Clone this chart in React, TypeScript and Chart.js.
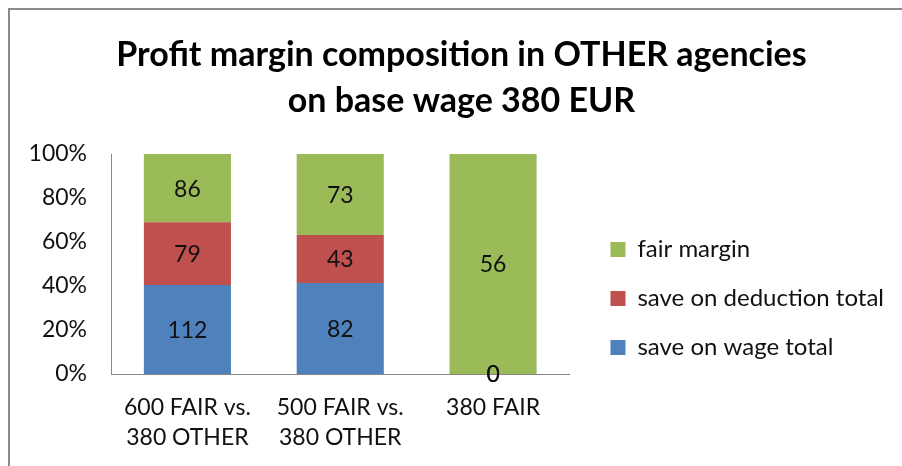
import React, { useEffect, useRef } from "react";
import { Chart, registerables } from "chart.js";

Chart.register(...registerables);

const titleLines = ["Profit margin composition in OTHER agencies", "on base wage 380 EUR"];
const categories: (string | string[])[] = [
  ["600 FAIR vs.", "380 OTHER"],
  ["500 FAIR vs.", "380 OTHER"],
  "380 FAIR",
];
const saveOnWage = [112, 82, 0];
const saveOnDeduction = [79, 43, 0];
const fairMargin = [86, 73, 56];
const seriesNames = ["save on wage total", "save on deduction total", "fair margin"];
const seriesColors = ["#4F81BD", "#C0504D", "#9BBB59"];
const yTicks = [0, 20, 40, 60, 80, 100];

const FONT = "Lato, 'Open Sans', sans-serif";

const totals = categories.map((_, i) => saveOnWage[i] + saveOnDeduction[i] + fairMargin[i]);
const pct = (arr: number[]) => arr.map((v, i) => (totals[i] ? (v / totals[i]) * 100 : 0));

const framePlugin = {
  id: "frame",
  beforeLayout(chart: any) {
    const lg = chart.legend;
    if (lg && !lg.__wide) {
      const orig = lg.update.bind(lg);
      lg.update = (mw: number, mh: number, m: any) => orig(Math.max(mw, 340), mh, m);
      lg.__wide = true;
    }
  },
  beforeDraw(chart: any) {
    const { ctx } = chart;
    ctx.save();
    ctx.fillStyle = "#ffffff";
    ctx.fillRect(0, 0, chart.width, chart.height);
    ctx.strokeStyle = "#8a8a8a";
    ctx.lineWidth = 2;
    ctx.strokeRect(9, 9, 1000, 1000);
    ctx.restore();
  },
};

const valueLabelPlugin = {
  id: "valueLabels",
  afterDatasetsDraw(chart: any) {
    const { ctx } = chart;
    ctx.save();
    ctx.font = `23px ${FONT}`;
    ctx.fillStyle = "#111111";
    ctx.textAlign = "center";
    ctx.textBaseline = "middle";
    chart.data.datasets.forEach((ds: any, di: number) => {
      const meta = chart.getDatasetMeta(di);
      meta.data.forEach((el: any, i: number) => {
        const raw = ds.rawValues[i];
        const y = (el.y + el.base) / 2;
        ctx.fillText(String(raw), el.x, y + 1);
      });
    });
    ctx.restore();
  },
};

export default function App() {
  const ref = useRef<HTMLCanvasElement | null>(null);
  useEffect(() => {
    if (!ref.current) return;
    const chart = new Chart(ref.current, {
      type: "bar",
      data: {
        labels: categories,
        datasets: [
          { label: seriesNames[0], data: pct(saveOnWage), rawValues: saveOnWage, backgroundColor: seriesColors[0] } as any,
          { label: seriesNames[1], data: pct(saveOnDeduction), rawValues: saveOnDeduction, backgroundColor: seriesColors[1] } as any,
          { label: seriesNames[2], data: pct(fairMargin), rawValues: fairMargin, backgroundColor: seriesColors[2] } as any,
        ],
      },
      options: {
        animation: false,
        responsive: false,
        devicePixelRatio: 1,
        layout: { padding: { left: 29, right: 8, top: 0, bottom: 0 } },
        datasets: { bar: { barPercentage: 0.57, categoryPercentage: 1.0 } },
        plugins: {
          title: {
            display: true,
            text: titleLines,
            color: "#000000",
            font: { family: FONT, size: 34, weight: "bold", lineHeight: "46px" },
            padding: { top: 32, bottom: 30 },
          },
          legend: {
            position: "right",
            reverse: true,
            title: {
              display: true,
              text: "",
              font: { family: FONT, size: 11, lineHeight: "13px" },
              padding: { top: 118, bottom: 0 },
            },
            labels: {
              boxWidth: 15,
              boxHeight: 15,
              padding: 25,
              color: "#111111",
              font: { family: FONT, size: 24 },
            },
          },
          tooltip: { enabled: false },
        },
        scales: {
          x: {
            stacked: true,
            grid: { display: false, drawTicks: false },
            border: { display: true, color: "#868686", width: 1 },
            ticks: { color: "#111111", font: { family: FONT, size: 23, lineHeight: 1.3 }, padding: 19, maxRotation: 0 },
            afterFit: (s: any) => {
              s.height = 92;
            },
          },
          y: {
            stacked: true,
            min: 0,
            max: 100,
            afterBuildTicks: (s: any) => {
              s.ticks = yTicks.map((v) => ({ value: v }));
            },
            grid: { display: false, drawTicks: false },
            border: { display: true, color: "#868686", width: 1 },
            ticks: { color: "#111111", font: { family: FONT, size: 23 }, padding: 24, callback: (v: any) => `${v}%` },
            afterFit: (s: any) => {
              s.width = 82;
            },
          },
          pad: {
            type: "linear",
            position: "right",
            display: true,
            grid: { display: false, drawTicks: false },
            border: { display: false },
            ticks: { display: false },
            afterFit: (s: any) => {
              s.width = 16;
            },
          } as any,
        },
      },
      plugins: [framePlugin, valueLabelPlugin],
    } as any);
    return () => chart.destroy();
  }, []);
  return (
    <div style={{ position: "fixed", left: 0, top: 0, width: 902, height: 466 }}>
      <canvas ref={ref} width={902} height={466} />
    </div>
  );
}
